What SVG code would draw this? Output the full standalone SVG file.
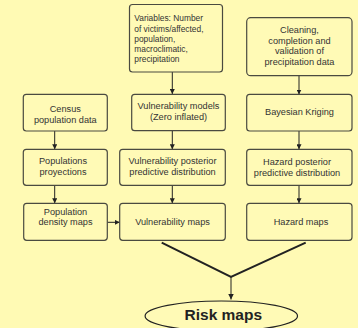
<svg xmlns="http://www.w3.org/2000/svg" width="358" height="328" viewBox="0 0 358 328">
<defs>
<style>
.box{fill:#fffab6;stroke:#4a4a40;stroke-width:1.2}
.t{font-family:"Liberation Sans",Arial,sans-serif;font-size:9.2px;fill:#333;text-anchor:middle}
.tl{font-family:"Liberation Sans",Arial,sans-serif;font-size:8.4px;fill:#333}
.c{stroke:#222;stroke-width:1;fill:none}
.thick{stroke:#222;stroke-width:2;fill:none}
</style>
<marker id="ah" viewBox="0 0 6 6" refX="6" refY="3" markerWidth="5" markerHeight="5" markerUnits="userSpaceOnUse" orient="auto">
<path d="M0,0 L6,3 L0,6 z" fill="#222"/>
</marker>
<marker id="ah2" viewBox="0 0 6 6" refX="6" refY="3" markerWidth="6" markerHeight="6" markerUnits="userSpaceOnUse" orient="auto">
<path d="M0,0 L6,3 L0,6 z" fill="#222"/>
</marker>
</defs>
<rect width="358" height="328" fill="#fffab4"/>
<g id="connectors">
<line class="c" x1="172.3" y1="72" x2="172.3" y2="94" marker-end="url(#ah)"/>
<line class="c" x1="299" y1="76" x2="299" y2="94.5" marker-end="url(#ah)"/>
<line class="c" x1="54.7" y1="131" x2="54.7" y2="149.3" marker-end="url(#ah)"/>
<line class="c" x1="172.3" y1="131" x2="172.3" y2="149.3" marker-end="url(#ah)"/>
<line class="c" x1="299" y1="131" x2="299" y2="149.3" marker-end="url(#ah)"/>
<line class="c" x1="54.7" y1="185.3" x2="54.7" y2="203.3" marker-end="url(#ah)"/>
<line class="c" x1="172.3" y1="185.3" x2="172.3" y2="203.3" marker-end="url(#ah)"/>
<line class="c" x1="299" y1="185.3" x2="299" y2="203.3" marker-end="url(#ah)"/>
<line class="c" x1="107.5" y1="222.3" x2="119.7" y2="222.3" marker-end="url(#ah)"/>
<polyline class="thick" points="161.7,242.7 231,277 305.7,242.7"/>
<line class="c" x1="231" y1="277" x2="231" y2="299.5" stroke-width="1.2" marker-end="url(#ah2)"/>
</g>
<g id="variables">
<rect class="box" x="129.5" y="4.5" width="93" height="67.5" rx="3"/>
<text class="tl" x="134.3" y="21">Variables: Number</text>
<text class="tl" x="134.3" y="31.5">of victims/affected,</text>
<text class="tl" x="134.3" y="41.8">population,</text>
<text class="tl" x="134.3" y="51.8">macroclimatic,</text>
<text class="tl" x="134.3" y="62">precipitation</text>
</g>
<g id="cleaning">
<rect class="box" x="246.7" y="17.7" width="105.3" height="58" rx="4"/>
<text class="t" x="299.5" y="33.3">Cleaning,</text>
<text class="t" x="299.5" y="43.8">completion and</text>
<text class="t" x="299.5" y="54.3">validation of</text>
<text class="t" x="299.5" y="65">precipitation data</text>
</g>
<g id="census">
<rect class="box" x="23.3" y="94.3" width="84" height="36.7" rx="3"/>
<text class="t" x="65.3" y="111.7">Census</text>
<text class="t" x="65.3" y="122.7">population data</text>
</g>
<g id="vulnmodels">
<rect class="box" x="131.7" y="94.3" width="93.6" height="36.4" rx="3"/>
<text class="t" x="178.5" y="109">Vulnerability models</text>
<text class="t" x="178.5" y="120">(Zero inflated)</text>
</g>
<g id="kriging">
<rect class="box" x="246.7" y="94.3" width="105.3" height="36.7" rx="3"/>
<text class="t" x="299.5" y="114.7">Bayesian Kriging</text>
</g>
<g id="popproj">
<rect class="box" x="23.3" y="149.3" width="84" height="36" rx="3"/>
<text class="t" x="63" y="164.3">Populations</text>
<text class="t" x="63" y="175">proyections</text>
</g>
<g id="vulnpost">
<rect class="box" x="119.7" y="149.3" width="105.6" height="36" rx="3"/>
<text class="t" x="172.5" y="164">Vulnerability posterior</text>
<text class="t" x="172.5" y="175">predictive distribution</text>
</g>
<g id="hazpost">
<rect class="box" x="246.7" y="149.3" width="105.3" height="36" rx="3"/>
<text class="t" x="297" y="165">Hazard posterior</text>
<text class="t" x="297" y="176">predictive distribution</text>
</g>
<g id="popdens">
<rect class="box" x="23.7" y="203.3" width="83.6" height="37" rx="3"/>
<text class="t" x="65.5" y="215">Population</text>
<text class="t" x="65.5" y="225.3">density maps</text>
</g>
<g id="vulnmaps">
<rect class="box" x="119.7" y="203.3" width="105.6" height="37" rx="3"/>
<text class="t" x="172.5" y="224.7">Vulnerability maps</text>
</g>
<g id="hazmaps">
<rect class="box" x="246.7" y="203.3" width="105.3" height="37" rx="3"/>
<text class="t" x="301" y="224.7">Hazard maps</text>
</g>
<g id="risk">
<ellipse cx="221.3" cy="316" rx="76.2" ry="15" fill="#fffab6" stroke="#222" stroke-width="1.2"/>
<text x="223.3" y="319.5" font-family="'Liberation Sans',Arial,sans-serif" font-size="15.5" font-weight="bold" fill="#222" text-anchor="middle">Risk maps</text>
</g>
</svg>
